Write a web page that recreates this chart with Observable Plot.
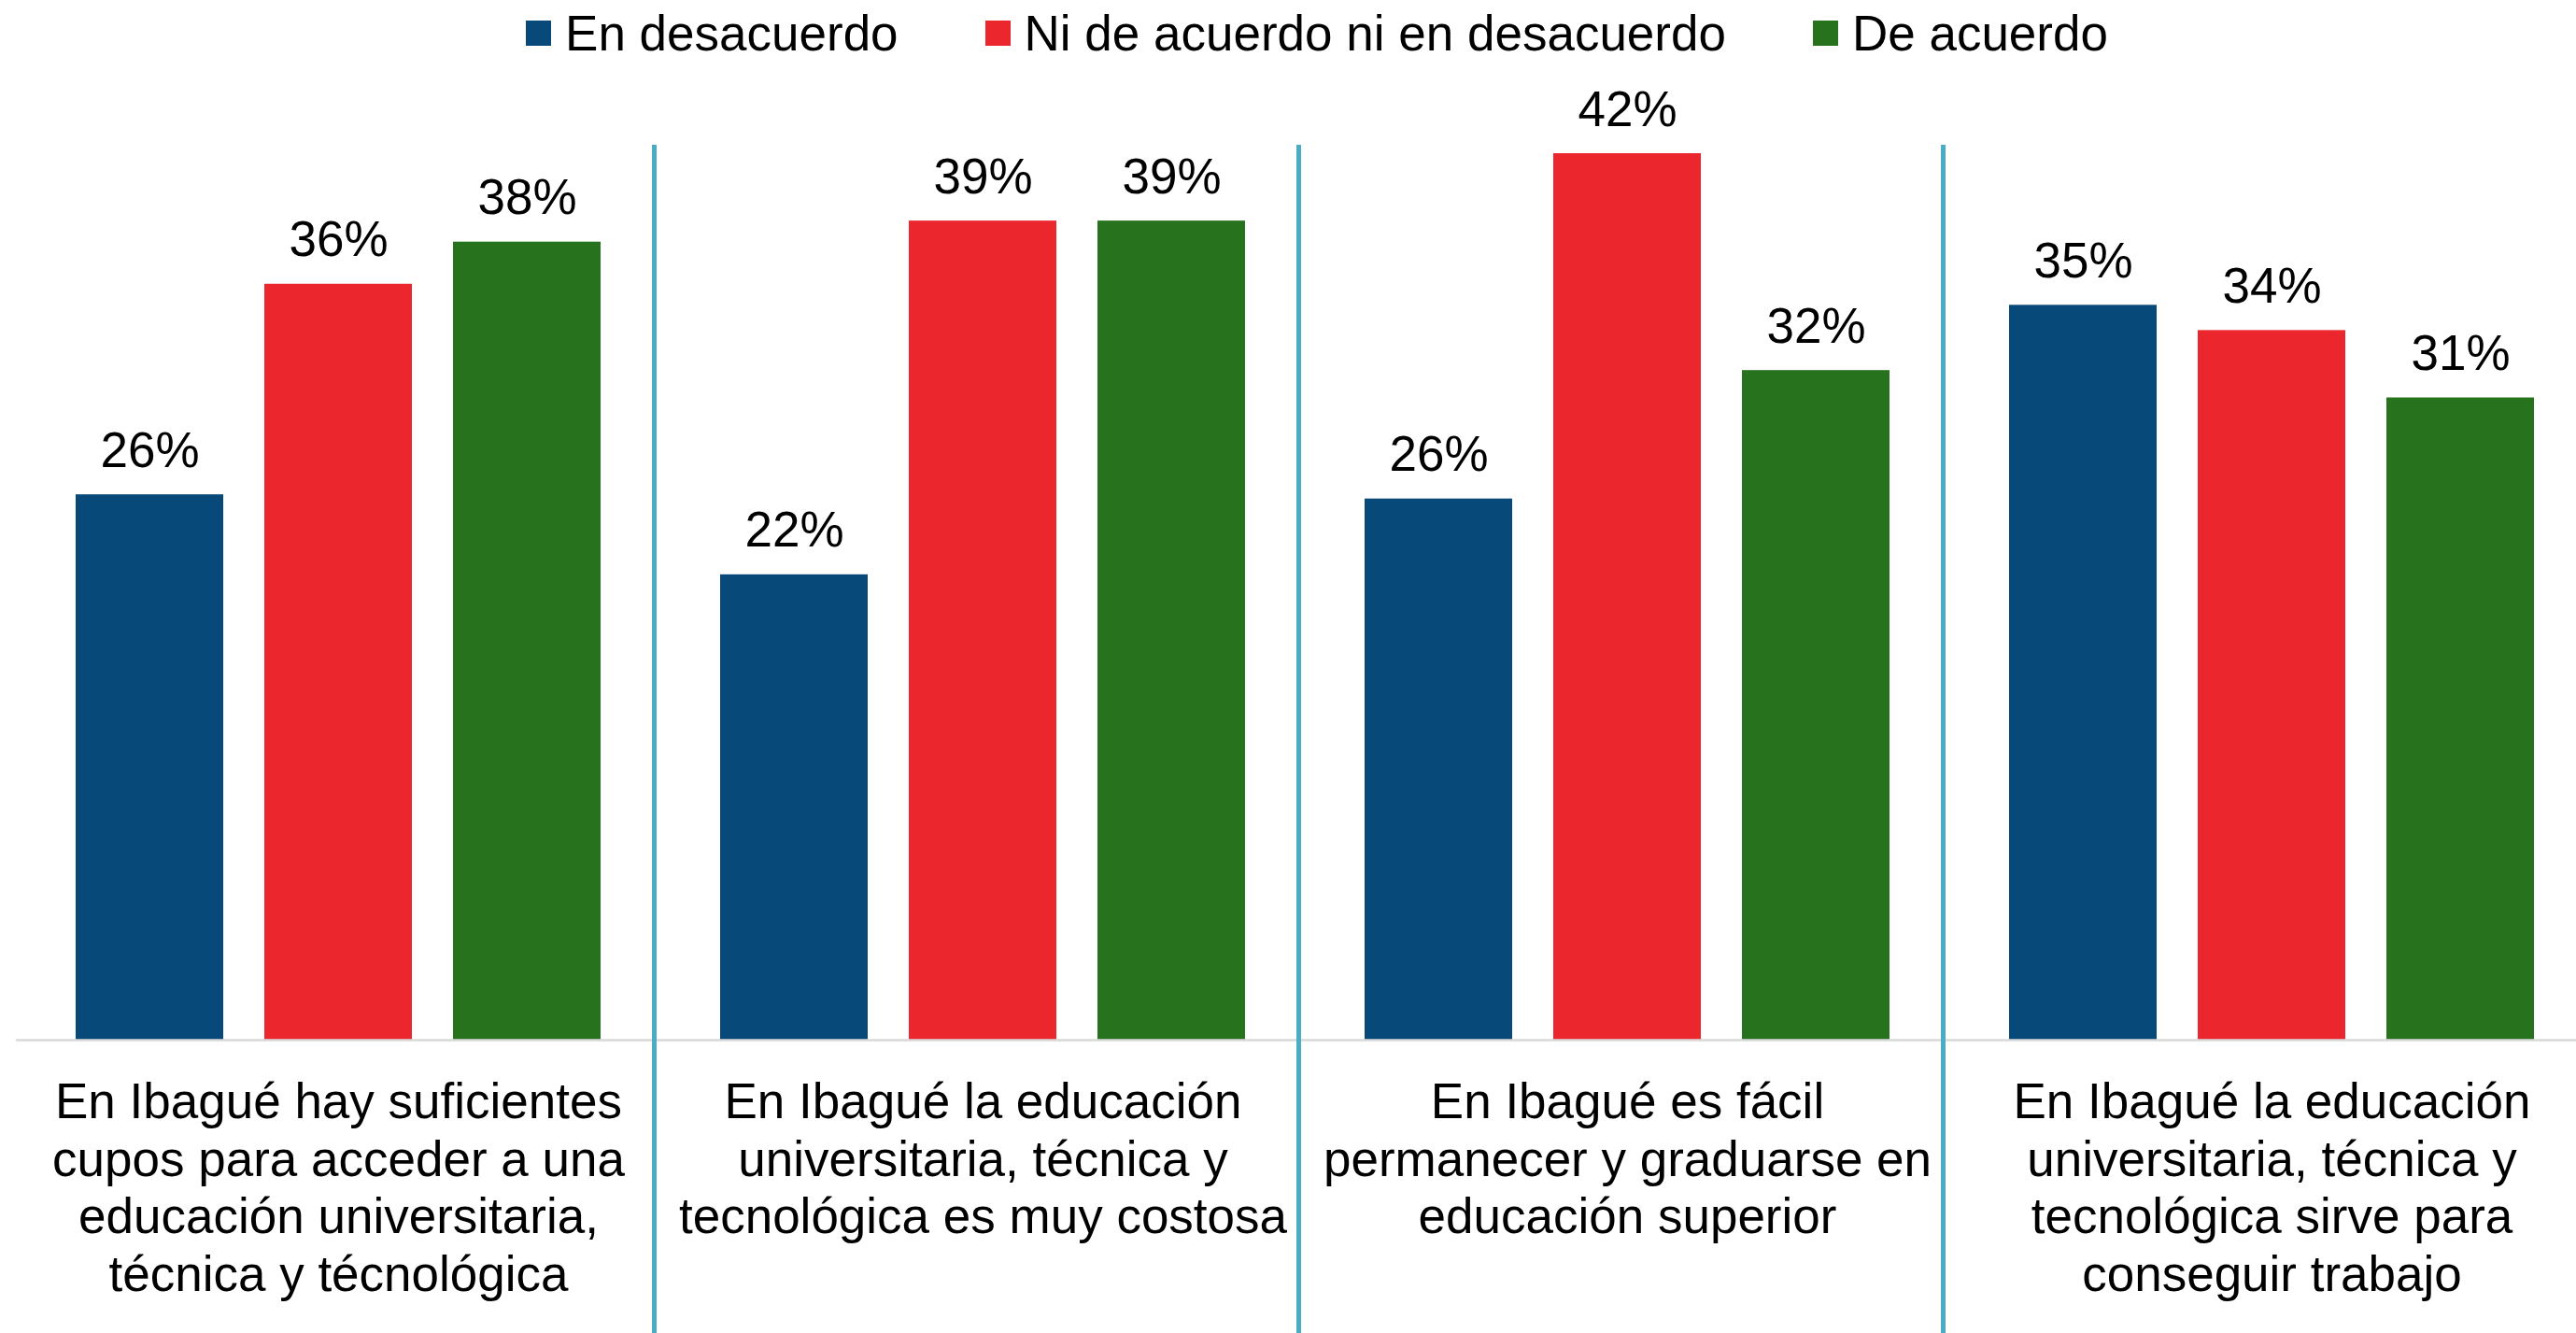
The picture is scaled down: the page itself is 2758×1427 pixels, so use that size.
<!DOCTYPE html>
<html>
<head>
<meta charset="utf-8">
<script src="https://cdn.jsdelivr.net/npm/d3@7"></script>
<script src="https://cdn.jsdelivr.net/npm/@observablehq/plot@0.6"></script>
<style>
  html, body { margin: 0; padding: 0; background: #fff; overflow: hidden; }
  body { width: 2758px; height: 1427px; font-family: "Liberation Sans", Arial, sans-serif; }
  #legend .lg-swatches { font-family: "Liberation Sans", Arial, sans-serif; font-size: 53px; color: #000;
    margin: 0; height: 70px; display: flex; align-items: center; justify-content: center; padding-left: 62px; box-sizing: border-box; }
  #legend .lg-swatch { margin-right: 93px; display: inline-flex; align-items: center; }
  #legend .lg-swatch:last-child { margin-right: 0; }
  #legend .lg-swatch > svg { margin-right: 15px; }
  #chart svg { display: block; overflow: visible; }
</style>
</head>
<body>
<div id="legend"></div>
<div id="chart"></div>
<script>
const questions = [
  "En Ibagué hay suficientes\ncupos para acceder a una\neducación universitaria,\ntécnica y técnológica",
  "En Ibagué la educación\nuniversitaria, técnica y\ntecnológica es muy costosa",
  "En Ibagué es fácil\npermanecer y graduarse en\neducación superior",
  "En Ibagué la educación\nuniversitaria, técnica y\ntecnológica sirve para\nconseguir trabajo"
];
const series = ["En desacuerdo", "Ni de acuerdo ni en desacuerdo", "De acuerdo"];
const colors = ["#074A79", "#EB262D", "#27721C"];
const enDesacuerdo = [25.9, 22.1, 25.7, 34.9];
const niNi = [35.9, 38.9, 42.1, 33.7];
const deAcuerdo = [37.9, 38.9, 31.8, 30.5];

const valuesBySeries = [enDesacuerdo, niNi, deAcuerdo];
const data = [];
questions.forEach((q, qi) => {
  series.forEach((s, si) => {
    data.push({question: q, series: s, value: valuesBySeries[si][qi]});
  });
});

const font = "'Liberation Sans', Arial, sans-serif";

const legend = Plot.legend({
  color: {type: "ordinal", domain: series, range: colors},
  legend: "swatches",
  swatchSize: 27,
  className: "lg"
});
document.getElementById("legend").append(legend);

const chart = Plot.plot({
  width: 2758,
  height: 1357,
  marginTop: 85,
  marginBottom: 314,
  marginLeft: 17,
  marginRight: -19,
  style: {fontFamily: font, fontSize: "53px", color: "#000", background: "transparent"},
  fx: {domain: questions, padding: 0},
  x: {domain: series, paddingInner: 0.2178, paddingOuter: 0.3168, axis: null},
  y: {domain: [0, 42.5], axis: null},
  color: {domain: series, range: colors},
  marks: [
    Plot.barY(data, {fx: "question", x: "series", y: "value", fill: "series"}),
    Plot.ruleY([0], {stroke: "#d9d9d9", strokeWidth: 2.5}),
    Plot.text(data, {
      fx: "question", x: "series", y: "value",
      text: d => Math.round(d.value) + "%",
      dy: -30, lineAnchor: "bottom", fontSize: 53, fill: "#000"
    }),
    Plot.ruleX(questions.slice(1), {
      fx: d => d, x: () => series[0], dx: -150,
      stroke: "#4BACC6", strokeWidth: 5, insetBottom: -314
    }),
    Plot.axisFx({anchor: "bottom", tickSize: 0, tickPadding: 40, fontSize: 53, lineHeight: 1.16, label: null, fill: "#000"})
  ]
});
document.getElementById("chart").append(chart);
</script>
</body>
</html>
